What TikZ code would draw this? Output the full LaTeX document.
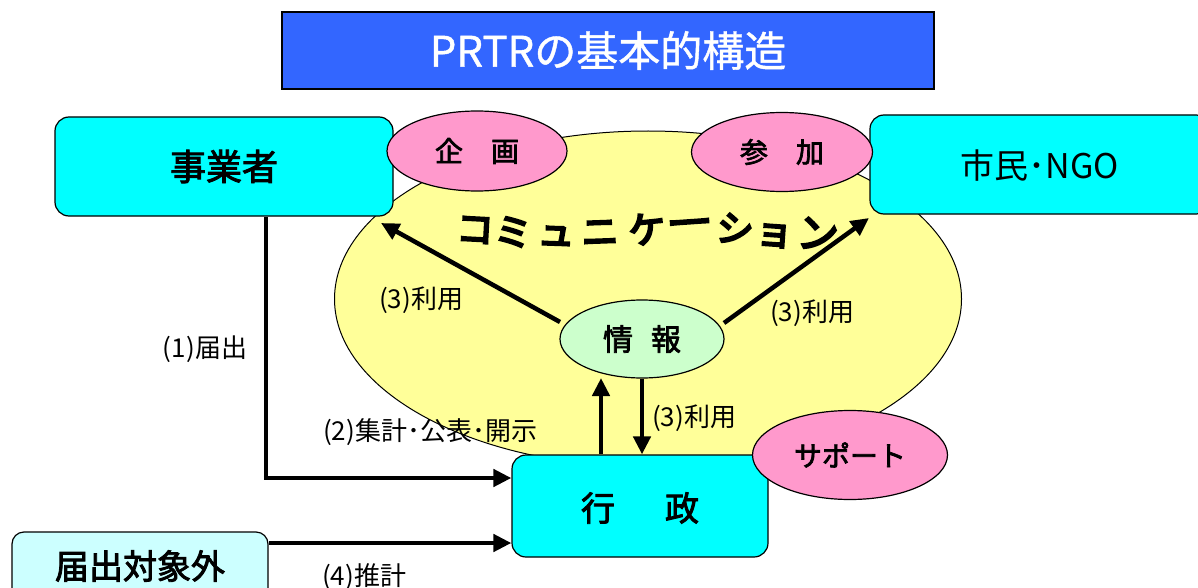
\documentclass[tikz,border=0pt]{standalone}
\usepackage{fontspec}
\setmainfont{Noto Sans CJK JP}
\newfontfamily\heavy{Noto Sans CJK JP}[FakeBold=6]
\newfontfamily\bfjp{Noto Sans CJK JP}[FakeBold=2.5]
\newfontfamily\midjp{Noto Sans CJK JP}[FakeBold=1]
\usetikzlibrary{shapes.geometric,arrows.meta}
\definecolor{titleblue}{HTML}{3366FF}
\definecolor{cyanbox}{HTML}{00FFFF}
\definecolor{lightcyan}{HTML}{CCFFFF}
\definecolor{commyellow}{HTML}{FFFF99}
\definecolor{pinkell}{HTML}{FF99CC}
\definecolor{greenell}{HTML}{CCFFCC}
\tikzset{
  actor/.style={draw=black, line width=1.2pt, rounded corners=14pt, fill=cyanbox, inner sep=0pt},
  pinkoval/.style={ellipse, draw=black, line width=1.2pt, fill=pinkell, inner sep=0pt},
  flow/.style={line width=4.5pt, -{Triangle[length=18pt,width=17pt]}},
  lbl/.style={font=\fontsize{26}{26}\selectfont, inner sep=0pt},
  comm/.style={font=\heavy\fontsize{37}{37}\selectfont, inner sep=0pt}
}
\begin{document}
\begin{tikzpicture}[x=1pt,y=-1pt]
\useasboundingbox (0,0) rectangle (1198,588);
% title
\node[draw=black, line width=1.2pt, fill=titleblue, minimum width=652pt, minimum height=77pt, inner sep=0pt,
  text=white, font=\midjp\fontsize{42}{42}\selectfont] (title) at (608,50.5) {PRTRの基本的構造};
% communication ellipse
\node[ellipse, draw=black, line width=1pt, fill=commyellow, minimum width=627pt, minimum height=336pt, inner sep=0pt] (comm) at (648,299) {};
% actors
\node[actor, minimum width=338pt, minimum height=99pt] (jigyo) at (224,166.5) {};
\node[font=\bfjp\fontsize{36}{36}\selectfont] at (jigyo) {事業者};
\node[actor, minimum width=340pt, minimum height=99pt] (shimin) at (1040,164.5) {};
\node[font=\fontsize{34}{34}\selectfont] at (1040,166) {市民･NGO};
% pink ovals
\node[pinkoval, minimum width=180pt, minimum height=80pt, font=\bfjp\fontsize{28}{28}\selectfont] (kikaku) at (477,151) {企　画};
\node[pinkoval, minimum width=181pt, minimum height=79pt, font=\bfjp\fontsize{28}{28}\selectfont] (sanka) at (782,152) {参　加};
% communication word
\node[comm, rotate=-3] (c1) at (475,230) {コ};
\node[comm, rotate=-4] (c2) at (513,232) {ミ};
\node[comm, rotate=-2] (c3) at (556,236) {ュ};
\node[comm, rotate=2] (c4) at (600,233) {ニ};
\node[comm, rotate=6] (c5) at (647,229) {ケ};
\node[comm, rotate=4, xscale=1.25] (c6) at (690,228) {ー};
\node[comm, rotate=-8] (c7) at (735,229) {シ};
\node[comm, rotate=-4] (c8) at (774,236) {ョ};
\node[comm, rotate=-6, scale=1.1] (c9) at (818,234) {ン};
% info
\node[ellipse, draw=black, line width=1.2pt, fill=greenell, minimum width=164pt, minimum height=78pt, inner sep=0pt,
  font=\bfjp\fontsize{30}{30}\selectfont] (joho) at (642,339) {情\hspace{18pt}報};
% administration
\node[actor, minimum width=256pt, minimum height=102pt] (gyosei) at (640,506) {};
\node[font=\bfjp\fontsize{34}{34}\selectfont] at (640,508) {行\hspace{50pt}政};
\node[pinkoval, minimum width=195pt, minimum height=89pt, font=\bfjp\fontsize{28}{28}\selectfont] (support) at (850,455) {サポート};
% not reported
\node[draw=black, line width=1.2pt, rounded corners=12pt, fill=lightcyan, minimum width=256pt, minimum height=70pt, inner sep=0pt] (gai) at (140,567) {};
\node[font=\bfjp\fontsize{34}{34}\selectfont] at (140,566) {届出対象外};
% connectors
\coordinate (jtip) at (381,223);
\coordinate (stip) at (869,218);
\coordinate (jbend) at (266,478);
\draw[flow] (560,322) -- (jtip);
\draw[flow] (724,323) -- (stip);
\draw[line width=4.5pt] (jigyo.south -| jbend) -- (jbend);
\draw[flow] ([xshift=-2.25pt]jbend) -- (jbend -| gyosei.west);
\draw[flow] (gai.east |- 0,543) -- (gyosei.west |- 0,543);
\draw[flow] (gyosei.north -| 601,0) -- (601,378);
\draw[flow] (joho.south) -- (gyosei.north -| joho.south);
% labels
\node[lbl] at (421,300) {(3)利用};
\node[lbl] at (812,313) {(3)利用};
\node[lbl] at (205,349) {(1)届出};
\node[lbl] at (430,432) {(2)集計･公表･開示};
\node[lbl] at (694,418) {(3)利用};
\node[lbl] at (364,577) {(4)推計};
\end{tikzpicture}
\end{document}
